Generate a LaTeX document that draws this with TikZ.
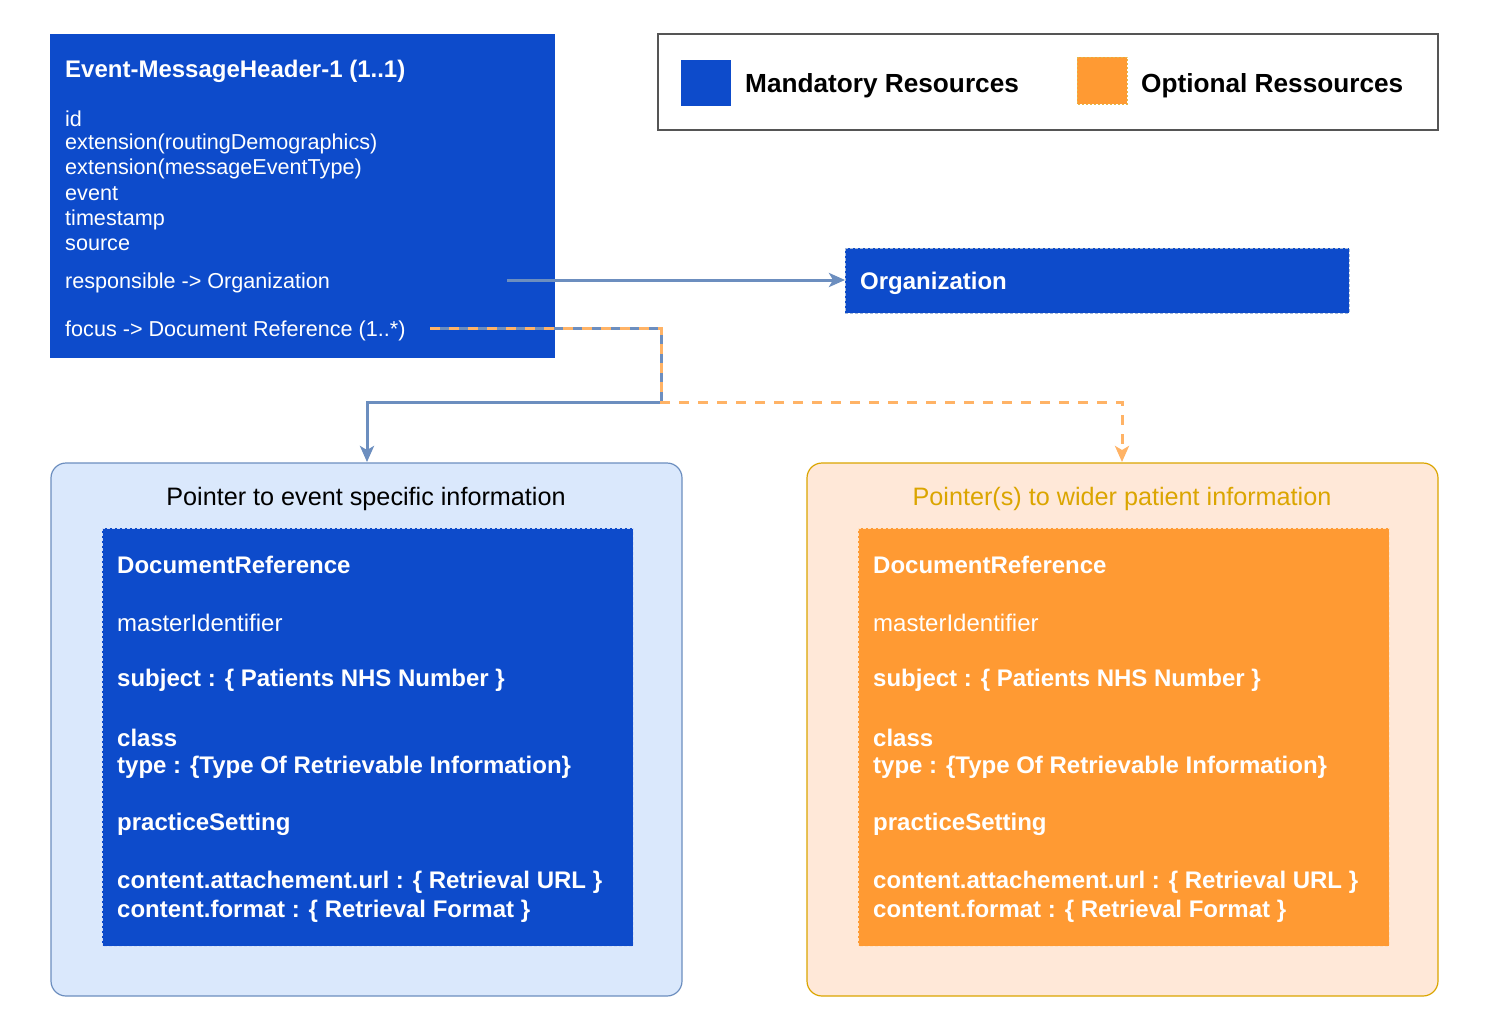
\documentclass[tikz,border=0pt]{standalone}
\usepackage{fontspec}
\setmainfont{Liberation Sans}
\usetikzlibrary{arrows.meta}
\definecolor{mblue}{HTML}{0D4BCB}
\definecolor{morange}{HTML}{FF9A33}
\definecolor{lblue}{HTML}{DAE8FC}
\definecolor{lblueline}{HTML}{6C8EBF}
\definecolor{lorange}{HTML}{FFE8D8}
\definecolor{dorange}{HTML}{D79B00}
\definecolor{orline}{HTML}{FFB366}
\definecolor{legline}{HTML}{555555}
\tikzset{
  htxt/.style={anchor=west,inner sep=0pt,text=white,font=\fontsize{21.6}{24}\selectfont},
  txt/.style={anchor=west,inner sep=0pt,text=white,font=\fontsize{24}{28}\selectfont},
  btxt/.style={txt,font=\fontsize{24}{28}\selectfont\bfseries},
  card/.style={draw=white!80!mblue,dashed,dash pattern=on 3pt off 2pt,line width=0.8pt},
  container/.style={rounded corners=15pt,line width=1.2pt},
  conn/.style={line width=3pt,color=lblueline},
  optconn/.style={line width=3pt,color=orline,dash pattern=on 10pt off 9pt},
  tip/.style={-{Stealth[length=16pt,width=14pt,inset=4pt]}},
}
\begin{document}
\begin{tikzpicture}[x=1pt,y=-1pt]
\useasboundingbox (0,0) rectangle (1494,1028);
\fill[white] (0,0) rectangle (1494,1028);

% header box
\fill[mblue] (50,34) rectangle (555,358);
\node[btxt] (hdr) at (65,71) {Event-MessageHeader-1 (1..1)};
\node[htxt] (l1) at (65,119) {id};
\node[htxt] (l2) at (65,144) {extension(routingDemographics)};
\node[htxt] (l3) at (65,169) {extension(messageEventType)};
\node[htxt] (l4) at (65,194) {event};
\node[htxt] (l5) at (65,220) {timestamp};
\node[htxt] (l6) at (65,245) {source};
\node[htxt] (l7) at (65,283) {responsible -> Organization};
\node[htxt] (l8) at (65,331) {focus -> Document Reference (1..*)};

% legend
\draw[legline,line width=1.5pt] (658,34) rectangle (1438,130);
\fill[mblue] (681,60) rectangle (731,106);
\node[anchor=west,inner sep=0pt,font=\fontsize{26.2}{30}\selectfont\bfseries] (lg1) at (745,86) {Mandatory Resources};
\fill[morange] (1077,57) rectangle (1127,104);
\draw[dorange!70!white,dashed,dash pattern=on 2pt off 2pt,line width=0.8pt] (1077,57) rectangle (1127,104);
\node[anchor=west,inner sep=0pt,font=\fontsize{26.2}{30}\selectfont\bfseries] (lg2) at (1141,86) {Optional Ressources};

% organization
\fill[mblue] (845,248) rectangle (1349,313);
\draw[card,draw=lblueline!60!white] (845,248) rectangle (1349,313);
\node[btxt] (org) at (860,283) {Organization};
\coordinate (orgW) at (845,280);

% containers
\draw[container,fill=lblue,draw=lblueline] (51,463) rectangle (682,996);
\draw[container,fill=lorange,draw=dorange!90!yellow] (807,463) rectangle (1438,996);
\node[font=\fontsize{25.2}{28}\selectfont,inner sep=0pt] (t1) at (366,499) {Pointer to event specific information};
\node[font=\fontsize{25.2}{28}\selectfont,inner sep=0pt,text=dorange!90!yellow] (t2) at (1122,499) {Pointer(s) to wider patient information};
\coordinate (c1N) at (367,462);
\coordinate (c2N) at (1122,462);

% cards
\fill[mblue] (102,528) rectangle (633,946);
\draw[card] (102,528) rectangle (633,946);
\fill[morange] (858,528) rectangle (1389,946);
\draw[card,draw=white!70!morange] (858,528) rectangle (1389,946);

\foreach \x/\p in {117/a,873/b}{
  \node[btxt] (dr\p) at (\x,565) {DocumentReference};
  \node[txt] (mi\p) at (\x,623) {masterIdentifier};
  \node[btxt] (su\p) at (\x,680) {subject : \{ Patients NHS Number \}};
  \node[btxt] (cl\p) at (\x,738) {class};
  \node[btxt] (ty\p) at (\x,767) {type : \{Type Of Retrievable Information\}};
  \node[btxt] (ps\p) at (\x,824) {practiceSetting};
  \node[btxt] (cu\p) at (\x,882) {content.attachement.url : \{ Retrieval URL \}};
  \node[btxt] (cf\p) at (\x,911) {content.format : \{ Retrieval Format \}};
}

% connectors
\coordinate (respS) at (507,280);
\coordinate (focS) at (430,328);
\coordinate (bend) at (661,328);
\coordinate (split) at (661,402);
\draw[conn,tip] (respS) -- (orgW);
\draw[conn,tip] (focS) -- (bend) -- (split) -| (c1N);
\draw[optconn,tip] (focS) -- (bend) -- (split) -| (c2N);
\end{tikzpicture}
\end{document}
